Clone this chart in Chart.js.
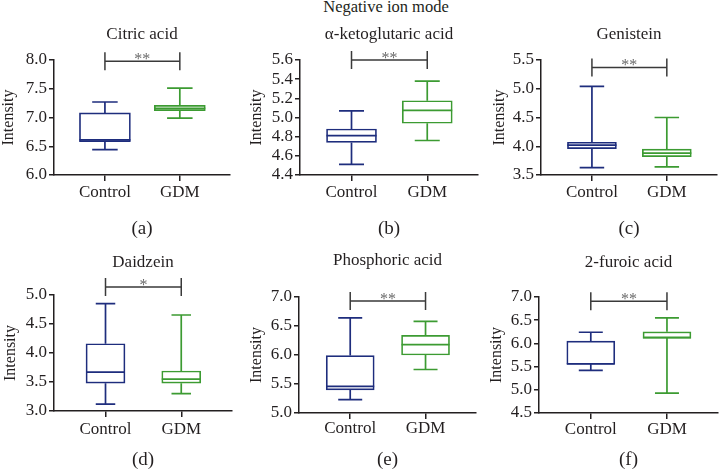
<!DOCTYPE html>
<html lang="en">
<head>
<meta charset="UTF-8">
<title>Negative ion mode</title>
<script src="https://cdn.jsdelivr.net/npm/chart.js"></script>
<style>
  body {
    margin: 0;
    width: 719px;
    height: 469px;
    overflow: hidden;
    position: relative;
    background: #fff;
    font-family: "Liberation Serif", serif;
    color: #231f20;
  }
  canvas { position: absolute; }
  #mode {
    position: absolute;
    left: 240px;
    width: 292px;
    top: -1px;
    line-height: 16px;
    text-align: center;
    font-size: 16.5px;
  }
</style>
</head>
<body>
<div id="mode">Negative ion mode</div>
<canvas id="c0"></canvas>
<canvas id="c1"></canvas>
<canvas id="c2"></canvas>
<canvas id="c3"></canvas>
<canvas id="c4"></canvas>
<canvas id="c5"></canvas>

<script>
// groups and panel texts
const groups = ['Control', 'GDM'];
const titles = ['Citric acid', 'α-ketoglutaric acid', 'Genistein', 'Daidzein', 'Phosphoric acid', '2-furoic acid'];
const panelLabels = ['(a)', '(b)', '(c)', '(d)', '(e)', '(f)'];

// box summaries per panel: [min, q1, median, q3, max]
const controlBoxes = [
  [6.44, 6.58, 6.61, 7.08, 7.27],
  [4.51, 4.74, 4.81, 4.88, 5.07],
  [3.63, 3.96, 4.02, 4.07, 5.04],
  [3.12, 3.48, 3.67, 4.16, 4.85],
  [5.23, 5.40, 5.46, 5.99, 6.64],
  [5.42, 5.55, 5.56, 6.05, 6.24]
];
const gdmBoxes = [
  [6.99, 7.12, 7.16, 7.21, 7.51],
  [4.76, 4.94, 5.075, 5.175, 5.38],
  [3.64, 3.82, 3.88, 3.95, 4.50],
  [3.30, 3.48, 3.55, 3.69, 4.655],
  [5.75, 6.00, 6.18, 6.34, 6.58],
  [4.93, 6.11, 6.13, 6.25, 6.55]
];

// y axes
const yMin = [6.0, 4.4, 3.5, 3.0, 5.0, 4.5];
const yMax = [8.0, 5.6, 5.5, 5.0, 7.0, 7.0];
const yStep = [0.5, 0.2, 0.5, 0.5, 0.5, 0.5];

// significance
const stars = ['**', '**', '**', '*', '**', '**'];
const bracketAt = [7.98, 5.6, 5.37, 5.14, 6.93, 6.91];

// where each panel sits on the page (canvas coords for the plot box)
const layout = [
  { x: 0,   y: 0,   w: 240, h: 245, left: 54, right: 230, top: 60, bottom: 175, titleY: 35, yTitleX: 9,  xLabelY: 193, panelY: 229, box: 51 },
  { x: 240, y: 0,   w: 240, h: 245, left: 60, right: 238, top: 60, bottom: 175, titleY: 35, yTitleX: 17, xLabelY: 193, panelY: 229, box: 50 },
  { x: 480, y: 0,   w: 239, h: 245, left: 61, right: 237, top: 60, bottom: 175, titleY: 35, yTitleX: 20, xLabelY: 193, panelY: 229, box: 49 },
  { x: 0,   y: 232, w: 240, h: 237, left: 54, right: 232, top: 63, bottom: 179, titleY: 31, yTitleX: 11, xLabelY: 198, panelY: 228, box: 39 },
  { x: 240, y: 232, w: 240, h: 237, left: 59, right: 236, top: 65, bottom: 181, titleY: 29, yTitleX: 17, xLabelY: 197, panelY: 228, box: 48 },
  { x: 480, y: 232, w: 239, h: 237, left: 59, right: 238, top: 65, bottom: 181, titleY: 31, yTitleX: 17, xLabelY: 198, panelY: 228, box: 48 }
];

const ink = '#231f20';
const navy = '#1e2d7d';
const green = '#3c9b32';
const serif = "'Liberation Serif', serif";

Chart.defaults.font.family = serif;
Chart.defaults.color = ink;

// whiskers, medians and the significance bracket
const boxPlotPlugin = {
  id: 'boxPlot',
  afterDatasetsDraw(chart, args, opts) {
    const ctx = chart.ctx;
    const xs = chart.scales.x, ys = chart.scales.y;
    const bars = chart.getDatasetMeta(0).data;
    const colors = [navy, green];
    ctx.save();
    ctx.lineWidth = 1.7;
    opts.stats.forEach((s, i) => {
      const cx = xs.getPixelForValue(i);
      const half = bars[i].width / 2;
      const cap = half / 2;
      ctx.strokeStyle = colors[i];
      ctx.beginPath();
      ctx.moveTo(cx, ys.getPixelForValue(s[3]));
      ctx.lineTo(cx, ys.getPixelForValue(s[4]));
      ctx.moveTo(cx, ys.getPixelForValue(s[1]));
      ctx.lineTo(cx, ys.getPixelForValue(s[0]));
      ctx.moveTo(cx - cap, ys.getPixelForValue(s[4]));
      ctx.lineTo(cx + cap, ys.getPixelForValue(s[4]));
      ctx.moveTo(cx - cap, ys.getPixelForValue(s[0]));
      ctx.lineTo(cx + cap, ys.getPixelForValue(s[0]));
      ctx.moveTo(cx - half, ys.getPixelForValue(s[2]));
      ctx.lineTo(cx + half, ys.getPixelForValue(s[2]));
      ctx.stroke();
    });

    // bracket
    const x0 = xs.getPixelForValue(0);
    const x1 = xs.getPixelForValue(1);
    const by = ys.getPixelForValue(opts.bracket);
    ctx.strokeStyle = '#3a3a3a';
    ctx.lineWidth = 1.5;
    ctx.beginPath();
    ctx.moveTo(x0, by); ctx.lineTo(x1, by);
    ctx.moveTo(x0, by - 9); ctx.lineTo(x0, by + 9);
    ctx.moveTo(x1, by - 9); ctx.lineTo(x1, by + 9);
    ctx.stroke();
    ctx.fillStyle = '#6a6a6a';
    ctx.font = '16px ' + serif;
    ctx.textAlign = 'center';
    ctx.textBaseline = 'alphabetic';
    ctx.fillText(opts.stars, (x0 + x1) / 2, by + 3);
    ctx.restore();
  }
};

titles.forEach((title, p) => {
  const L = layout[p];
  const canvas = document.getElementById('c' + p);
  canvas.width = L.w;
  canvas.height = L.h;
  canvas.style.left = L.x + 'px';
  canvas.style.top = L.y + 'px';

  const c = controlBoxes[p], g = gdmBoxes[p];
  const titlePadTop = L.titleY - 10.2;
  const titlePadBottom = L.top - titlePadTop - 20.4;

  new Chart(canvas, {
    type: 'bar',
    data: {
      datasets: [{
        data: [{ x: 0, y: [c[1], c[3]] }, { x: 1, y: [g[1], g[3]] }],
        backgroundColor: '#ffffff',
        borderColor: [navy, green],
        borderWidth: 1.7,
        borderSkipped: false,
        barThickness: L.box
      }]
    },
    options: {
      responsive: false,
      animation: false,
      events: [],
      layout: { padding: { left: 0, right: L.w - L.right, top: 0, bottom: 0 } },
      plugins: {
        legend: { display: false },
        tooltip: { enabled: false },
        title: {
          display: true,
          fullSize: false,
          text: title,
          color: ink,
          font: { family: serif, size: 17, weight: 'normal', lineHeight: 1.2 },
          padding: { top: titlePadTop, bottom: titlePadBottom }
        },
        boxPlot: { stats: [c, g], stars: stars[p], bracket: bracketAt[p] }
      },
      scales: {
        x: {
          type: 'linear',
          min: -0.68,
          max: 1.67,
          offset: false,
          afterBuildTicks: s => { s.ticks = groups.map((_, i) => ({ value: i })); },
          afterFit: s => { s.height = L.h - L.bottom; },
          ticks: {
            color: ink,
            font: { family: serif, size: 17, weight: 'normal' },
            padding: L.xLabelY - L.bottom - 6 - 10.2,
            callback: v => groups[v]
          },
          grid: { offset: false, drawOnChartArea: false, drawTicks: true, tickLength: 6, color: ink, lineWidth: 1.5 },
          border: { color: ink, width: 1.5 },
          title: {
            display: true,
            text: panelLabels[p],
            color: ink,
            font: { family: serif, size: 19, weight: 'normal', lineHeight: 1 },
            padding: { top: 0, bottom: L.h - L.panelY - 9.5 }
          }
        },
        y: {
          min: yMin[p],
          max: yMax[p],
          beginAtZero: false,
          afterFit: s => { s.width = L.left; },
          ticks: {
            stepSize: yStep[p],
            autoSkip: false,
            color: ink,
            font: { family: serif, size: 17, weight: 'normal' },
            padding: 2,
            callback: v => Number(v).toFixed(1)
          },
          grid: { drawOnChartArea: false, drawTicks: true, tickLength: 5, color: ink, lineWidth: 1.5 },
          border: { color: ink, width: 1.5 },
          title: {
            display: true,
            text: 'Intensity',
            color: ink,
            font: { family: serif, size: 16, weight: 'normal', lineHeight: 1 },
            padding: { top: L.yTitleX - 8, bottom: 0 }
          }
        }
      }
    },
    plugins: [boxPlotPlugin]
  });
});
</script>
</body>
</html>
